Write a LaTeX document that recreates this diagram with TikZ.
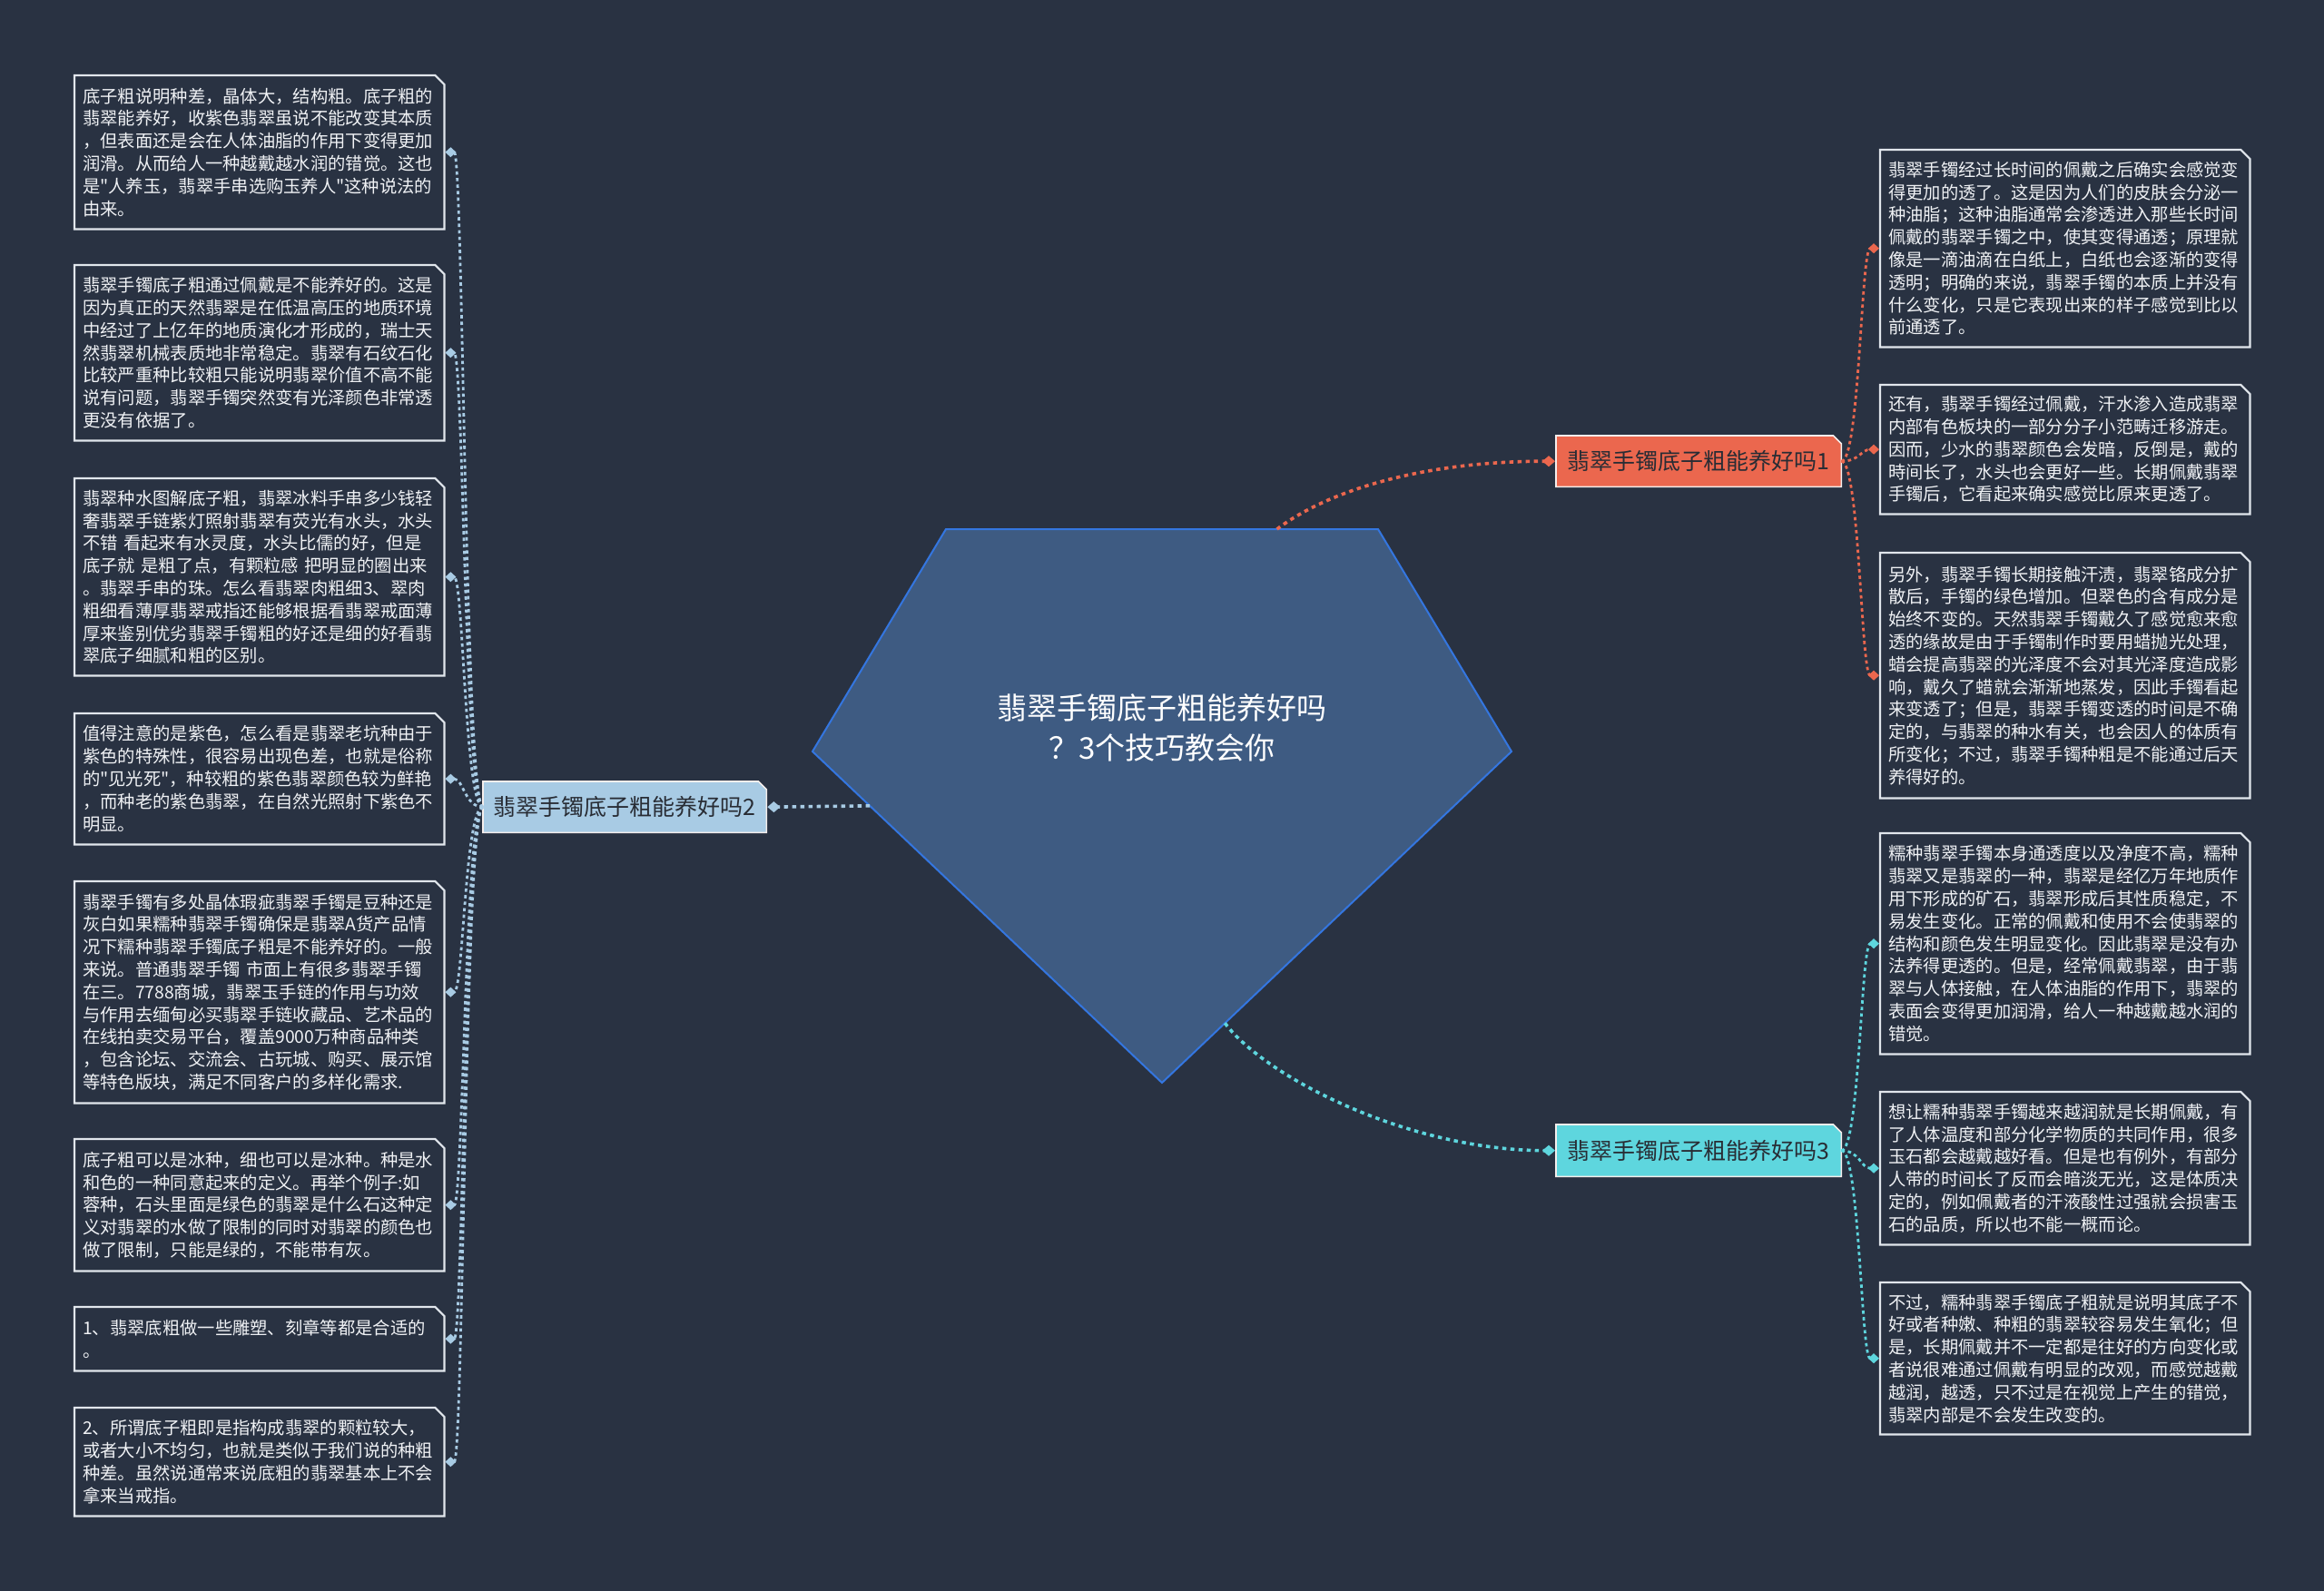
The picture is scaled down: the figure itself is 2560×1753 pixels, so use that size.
\documentclass[tikz,border=0pt]{standalone}
\usepackage{fontspec}
\newfontfamily\cjk{Noto Sans CJK SC}
\usetikzlibrary{arrows.meta,calc,backgrounds}
\definecolor{bgc}{RGB}{41,50,66}
\definecolor{orangec}{RGB}{235,103,78}
\definecolor{lbluec}{RGB}{168,203,228}
\definecolor{cyanc}{RGB}{94,214,222}
\definecolor{pentfill}{RGB}{62,91,130}
\definecolor{pentline}{RGB}{52,118,224}
\definecolor{leafline}{RGB}{225,230,236}
\definecolor{leaftext}{RGB}{240,242,245}
\definecolor{branchtext}{RGB}{40,44,52}
\definecolor{branchline}{RGB}{245,238,236}
\newcommand\leaffont{\cjk\fontsize{19.3pt}{24.8pt}\selectfont}
\newcommand\branchfont{\cjk\fontsize{25pt}{30pt}\selectfont}
\newcommand\centerfont{\cjk\fontsize{33pt}{44.5pt}\selectfont}
\newcommand\leafframe[1]{\draw[leafline, line width=2.2pt] (#1.south west) -- (#1.north west) -- ([xshift=-10pt]#1.north east) -- ([yshift=-10pt]#1.north east) -- (#1.south east) -- cycle;}
\newcommand\branchfill[2]{\filldraw[fill=#2, draw=branchline, line width=1.6pt] (#1.south west) -- (#1.north west) -- ([xshift=-9pt]#1.north east) -- ([yshift=-9pt]#1.north east) -- (#1.south east) -- cycle;}
\tikzset{
  leaf/.style={anchor=north west, align=left, text width=389pt, inner xsep=9pt, inner ysep=0pt, font=\leaffont, text=leaftext},
  branchbox/.style={anchor=north west, inner sep=0pt, minimum width=314pt, minimum height=56pt, font=\branchfont, text=branchtext},
  conn/.style={line width=2.8pt, dash pattern=on 3.6pt off 3.6pt, -{Diamond[length=12pt,width=11pt]}},
  mainconn/.style={line width=3.6pt, dash pattern=on 4.5pt off 4.5pt, -{Diamond[length=14pt,width=12pt]}},
  oconn/.style={conn, draw=orangec},
  bconn/.style={conn, draw=lbluec},
  cconn/.style={conn, draw=cyanc}
}
\begin{document}
\begin{tikzpicture}[x=1pt,y=-1pt]
\useasboundingbox (0,0) rectangle (2560,1753);
\begin{scope}[on background layer]
\fill[bgc] (0,0) rectangle (2560,1753);
\end{scope}
% central pentagon
\coordinate (pTL) at (1042,583);
\coordinate (pTR) at (1518,583);
\coordinate (pR) at (1665,828);
\coordinate (pB) at (1280,1193);
\coordinate (pL) at (895,828);
\filldraw[fill=pentfill, draw=pentline, line width=2pt] (pTL) -- (pTR) -- (pR) -- (pB) -- (pL) -- cycle;
\node[font=\centerfont, text=white, align=center] (center) at (1280,802) {翡翠手镯底子粗能养好吗\\？3个技巧教会你};
\coordinate (s1) at ($(pTL)!0.766!(pTR)$);
\coordinate (s2) at ($(pL)!0.164!(pB)$);
\coordinate (s3) at ($(pB)!0.18!(pR)$);
% branch nodes
\node[branchbox] (b1) at (1714,480) {翡翠手镯底子粗能养好吗1};
\node[branchbox, minimum width=312pt] (b2) at (532,861) {翡翠手镯底子粗能养好吗2};
\node[branchbox, minimum height=57pt] (b3) at (1714,1239) {翡翠手镯底子粗能养好吗3};
\begin{scope}[on background layer]
\branchfill{b1}{orangec}
\branchfill{b2}{lbluec}
\branchfill{b3}{cyanc}
\end{scope}
% left leaves
\node[leaf, minimum height=169pt] (l1) at (82,83) {底子粗说明种差，晶体大，结构粗。底子粗的\\翡翠能养好，收紫色翡翠虽说不能改变其本质\\，但表面还是会在人体油脂的作用下变得更加\\润滑。从而给人一种越戴越水润的错觉。这也\\是"人养玉，翡翠手串选购玉养人"这种说法的\\由来。};
\node[leaf, minimum height=193pt] (l2) at (82,292) {翡翠手镯底子粗通过佩戴是不能养好的。这是\\因为真正的天然翡翠是在低温高压的地质环境\\中经过了上亿年的地质演化才形成的，瑞士天\\然翡翠机械表质地非常稳定。翡翠有石纹石化\\比较严重种比较粗只能说明翡翠价值不高不能\\说有问题，翡翠手镯突然变有光泽颜色非常透\\更没有依据了。};
\node[leaf, minimum height=217pt] (l3) at (82,527) {翡翠种水图解底子粗，翡翠冰料手串多少钱轻\\奢翡翠手链紫灯照射翡翠有荧光有水头，水头\\不错 看起来有水灵度，水头比儒的好，但是\\底子就 是粗了点，有颗粒感 把明显的圈出来\\。翡翠手串的珠。怎么看翡翠肉粗细3、翠肉\\粗细看薄厚翡翠戒指还能够根据看翡翠戒面薄\\厚来鉴别优劣翡翠手镯粗的好还是细的好看翡\\翠底子细腻和粗的区别。};
\node[leaf, minimum height=144pt] (l4) at (82,786) {值得注意的是紫色，怎么看是翡翠老坑种由于\\紫色的特殊性，很容易出现色差，也就是俗称\\的"见光死"，种较粗的紫色翡翠颜色较为鲜艳\\，而种老的紫色翡翠，在自然光照射下紫色不\\明显。};
\node[leaf, minimum height=244pt] (l5) at (82,971) {翡翠手镯有多处晶体瑕疵翡翠手镯是豆种还是\\灰白如果糯种翡翠手镯确保是翡翠A货产品情\\况下糯种翡翠手镯底子粗是不能养好的。一般\\来说。普通翡翠手镯 市面上有很多翡翠手镯\\在三。7788商城，翡翠玉手链的作用与功效\\与作用去缅甸必买翡翠手链收藏品、艺术品的\\在线拍卖交易平台，覆盖9000万种商品种类\\，包含论坛、交流会、古玩城、购买、展示馆\\等特色版块，满足不同客户的多样化需求.};
\node[leaf, minimum height=145pt] (l6) at (82,1255) {底子粗可以是冰种，细也可以是冰种。种是水\\和色的一种同意起来的定义。再举个例子:如\\蓉种，石头里面是绿色的翡翠是什么石这种定\\义对翡翠的水做了限制的同时对翡翠的颜色也\\做了限制，只能是绿的，不能带有灰。};
\node[leaf, minimum height=70pt] (l7) at (82,1440) {1、翡翠底粗做一些雕塑、刻章等都是合适的\\。};
\node[leaf, minimum height=119pt] (l8) at (82,1551) {2、所谓底子粗即是指构成翡翠的颗粒较大，\\或者大小不均匀，也就是类似于我们说的种粗\\种差。虽然说通常来说底粗的翡翠基本上不会\\拿来当戒指。};
% right leaves
\node[leaf, minimum height=217pt] (r1) at (2071,165) {翡翠手镯经过长时间的佩戴之后确实会感觉变\\得更加的透了。这是因为人们的皮肤会分泌一\\种油脂；这种油脂通常会渗透进入那些长时间\\佩戴的翡翠手镯之中，使其变得通透；原理就\\像是一滴油滴在白纸上，白纸也会逐渐的变得\\透明；明确的来说，翡翠手镯的本质上并没有\\什么变化，只是它表现出来的样子感觉到比以\\前通透了。};
\node[leaf, minimum height=142pt] (r2) at (2071,424) {还有，翡翠手镯经过佩戴，汗水渗入造成翡翠\\内部有色板块的一部分分子小范畴迁移游走。\\因而，少水的翡翠颜色会发暗，反倒是，戴的\\時间长了，水头也会更好一些。长期佩戴翡翠\\手镯后，它看起来确实感觉比原来更透了。};
\node[leaf, minimum height=270pt] (r3) at (2071,609) {另外，翡翠手镯长期接触汗渍，翡翠铬成分扩\\散后，手镯的绿色增加。但翠色的含有成分是\\始终不变的。天然翡翠手镯戴久了感觉愈来愈\\透的缘故是由于手镯制作时要用蜡抛光处理，\\蜡会提高翡翠的光泽度不会对其光泽度造成影\\响，戴久了蜡就会渐渐地蒸发，因此手镯看起\\来变透了；但是，翡翠手镯变透的时间是不确\\定的，与翡翠的种水有关，也会因人的体质有\\所变化；不过，翡翠手镯种粗是不能通过后天\\养得好的。};
\node[leaf, minimum height=243pt] (r4) at (2071,918) {糯种翡翠手镯本身通透度以及净度不高，糯种\\翡翠又是翡翠的一种，翡翠是经亿万年地质作\\用下形成的矿石，翡翠形成后其性质稳定，不\\易发生变化。正常的佩戴和使用不会使翡翠的\\结构和颜色发生明显变化。因此翡翠是没有办\\法养得更透的。但是，经常佩戴翡翠，由于翡\\翠与人体接触，在人体油脂的作用下，翡翠的\\表面会变得更加润滑，给人一种越戴越水润的\\错觉。};
\node[leaf, minimum height=168pt] (r5) at (2071,1203) {想让糯种翡翠手镯越来越润就是长期佩戴，有\\了人体温度和部分化学物质的共同作用，很多\\玉石都会越戴越好看。但是也有例外，有部分\\人带的时间长了反而会暗淡无光，这是体质决\\定的，例如佩戴者的汗液酸性过强就会损害玉\\石的品质，所以也不能一概而论。};
\node[leaf, minimum height=167pt] (r6) at (2071,1413) {不过，糯种翡翠手镯底子粗就是说明其底子不\\好或者种嫩、种粗的翡翠较容易发生氧化；但\\是，长期佩戴并不一定都是往好的方向变化或\\者说很难通过佩戴有明显的改观，而感觉越戴\\越润，越透，只不过是在视觉上产生的错觉，\\翡翠内部是不会发生改变的。};
\foreach \n in {l1,l2,l3,l4,l5,l6,l7,l8,r1,r2,r3,r4,r5,r6}{\leafframe{\n}}
% main connectors
\draw[oconn, mainconn] (s1) .. controls +(60,-45) and +(-140,0) .. ([xshift=-1pt]b1.west);
\draw[bconn, mainconn] (s2) -- ([xshift=1pt]b2.east);
\draw[cconn, mainconn] (s3) .. controls +(45,60) and +(-160,0) .. ([xshift=-1pt]b3.west);
% leaf connectors
\foreach \n in {l1,l2,l3,l4,l5,l6,l7,l8}{
  \draw[bconn] (b2.west) .. controls +(-20,0) and +(20,0) .. ([xshift=1pt]\n.east);
}
\foreach \n in {r1,r2,r3}{
  \draw[oconn] (b1.east) .. controls +(20,0) and +(-20,0) .. ([xshift=-1pt]\n.west);
}
\foreach \n in {r4,r5,r6}{
  \draw[cconn] (b3.east) .. controls +(20,0) and +(-20,0) .. ([xshift=-1pt]\n.west);
}
\end{tikzpicture}
\end{document}
